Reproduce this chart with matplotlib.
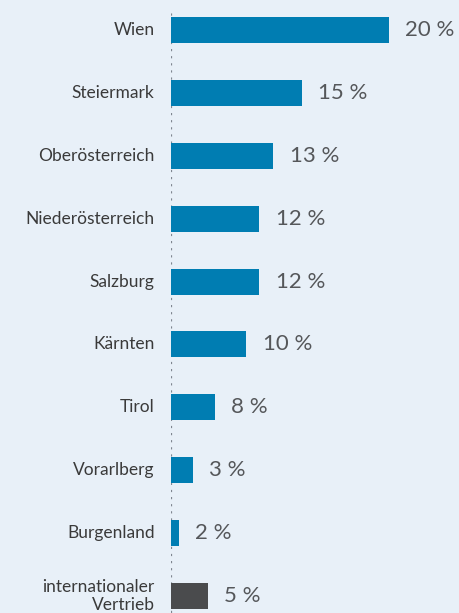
import matplotlib.pyplot as plt

# data
regionen = ['Wien', 'Steiermark', 'Oberösterreich', 'Niederösterreich', 'Salzburg',
            'Kärnten', 'Tirol', 'Vorarlberg', 'Burgenland', 'internationaler\nVertrieb']
anteil_text = ['20 %', '15 %', '13 %', '12 %', '12 %', '10 %', '8 %', '3 %', '2 %', '5 %']
# bar lengths as drawn in the picture (same scale as Wien = 20)
balken = [20.0, 12.0, 9.4, 8.1, 8.1, 6.9, 4.0, 2.0, 0.7, 3.4]
farben = ['#007db2'] * 9 + ['#4a4b4d']

bg = '#e8f0f8'
plt.rcParams['font.family'] = ['Lato', 'DejaVu Sans']

fig = plt.figure(figsize=(4.6, 6.13), dpi=100, facecolor=bg)
ax = fig.add_axes([171 / 460, 0, 1 - 171 / 460, 1])
ax.set_facecolor(bg)

y = list(range(len(regionen)))
ax.barh(y, balken, height=26 / 63, color=farben)

for i in y:
    ax.text(balken[i] + 1.5, i, anteil_text[i], va='center', ha='left',
            fontsize=16, color='#55575a')
    ax.text(-1.5, i, regionen[i], va='center', ha='right', fontsize=12.5,
            color='#3a3a3a', linespacing=1.1)

ax.set_xlim(0, 289 / 10.9)
ax.set_ylim(len(regionen) - 1 + 17 / 63, -30 / 63)
ax.axvline(0, ymin=0, ymax=1 - 10 / 613, color='#7f8690',
           linestyle=(0, (1, 2.2)), linewidth=1.6, zorder=0)

for s in ax.spines.values():
    s.set_visible(False)
ax.set_xticks([])
ax.set_yticks([])

fig.savefig('out.png', dpi=100, facecolor=bg)
